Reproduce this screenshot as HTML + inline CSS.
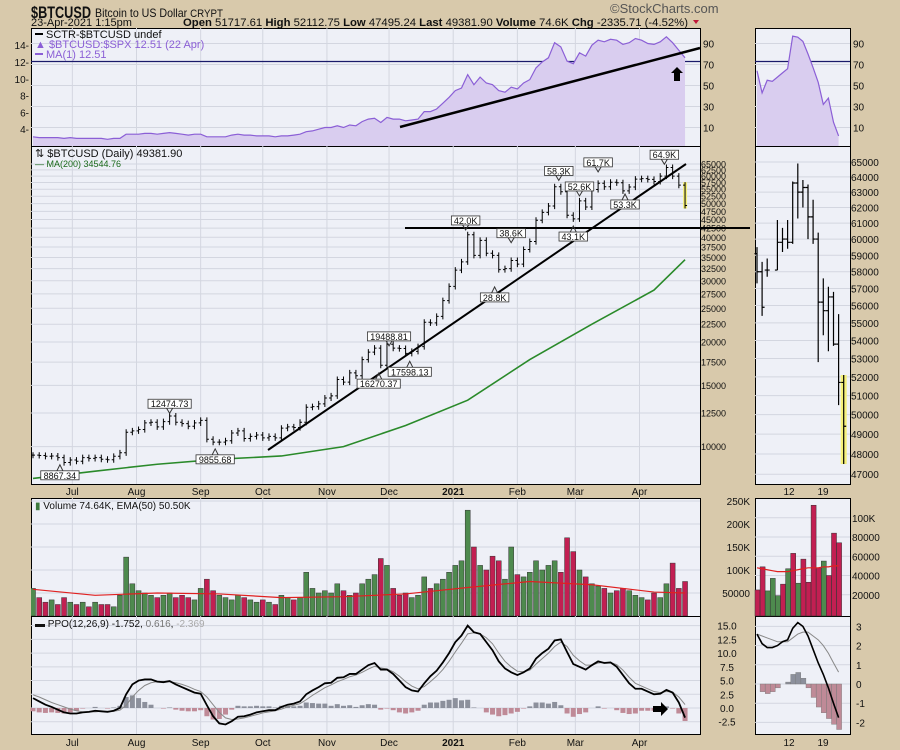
<!DOCTYPE html>
<html><head><meta charset="utf-8"><style>
html,body{margin:0;padding:0;background:#d8c9ab;}
svg{display:block;font-family:"Liberation Sans",sans-serif;}
</style></head><body>
<svg id="c" width="900" height="750" viewBox="0 0 900 750">
<rect x="0" y="0" width="900" height="750" fill="#d8c9ab"/>
<defs>
<clipPath id="cTop"><rect x="31" y="28" width="669" height="118"/></clipPath>
<clipPath id="cPrice"><rect x="31" y="146" width="669" height="338"/></clipPath>
<clipPath id="cVol"><rect x="31" y="498" width="669" height="118"/></clipPath>
<clipPath id="cPpo"><rect x="31" y="616" width="669" height="118"/></clipPath>
<clipPath id="cmTop"><rect x="755" y="28" width="95" height="118"/></clipPath>
</defs>
<text x="31" y="18" font-size="17" font-weight="bold" fill="#111" textLength="60" lengthAdjust="spacingAndGlyphs">$BTCUSD</text>
<text x="95" y="17" font-size="12" fill="#111" textLength="128" lengthAdjust="spacingAndGlyphs">Bitcoin to US Dollar <tspan font-size="11">CRYPT</tspan></text>
<text x="610" y="13" font-size="13" fill="#555">©StockCharts.com</text>
<text x="31" y="26" font-size="11" fill="#111">23-Apr-2021 1:15pm</text>
<text x="183" y="26" font-size="11" fill="#111" textLength="505" lengthAdjust="spacingAndGlyphs"><tspan font-weight="bold">Open</tspan> 51717.61 <tspan font-weight="bold">High</tspan> 52112.75 <tspan font-weight="bold">Low</tspan> 47495.24 <tspan font-weight="bold">Last</tspan> 49381.90 <tspan font-weight="bold">Volume</tspan> 74.6K <tspan font-weight="bold">Chg</tspan> -2335.71 (-4.52%)</text>
<polygon points="693,20 699,20 696,24" fill="#c0183a"/>
<g fill="#eef0f7" stroke="#000" stroke-width="1">
<rect x="31.5" y="28.5" width="669" height="118"/>
<rect x="31.5" y="146.5" width="669" height="338"/>
<rect x="31.5" y="498.5" width="669" height="118"/>
<rect x="31.5" y="616.5" width="669" height="118"/>
<rect x="755.5" y="28.5" width="95" height="118"/>
<rect x="755.5" y="146.5" width="95" height="338"/>
<rect x="755.5" y="498.5" width="95" height="118"/>
<rect x="755.5" y="616.5" width="95" height="118"/>
</g>
<g id="grid"></g>
<g id="marks"></g>
<g id="labels" font-size="10" fill="#111"></g>
<g font-size="11">
<rect x="35" y="33" width="8" height="2" fill="#000"/>
<text x="46" y="38" fill="#111">SCTR-$BTCUSD undef</text>
<text x="35" y="48" fill="#8b5fd6">▲ $BTCUSD:$SPX 12.51 (22 Apr)</text>
<rect x="35" y="53" width="8" height="2" fill="#8b5fd6"/>
<text x="46" y="58" fill="#8b5fd6">MA(1) 12.51</text>
</g>
<text x="35" y="157" font-size="11" fill="#111">⇅ $BTCUSD (Daily) 49381.90</text>
<text x="35" y="167" font-size="9" fill="#1a6a1a">— MA(200) 34544.76</text>
<text x="35" y="509" font-size="10" fill="#111"><tspan fill="#3d7a3d">▮</tspan> Volume 74.64K, EMA(50) 50.50K</text>
<text x="35" y="627" font-size="10" fill="#111">▬ PPO(12,26,9) -1.752, <tspan fill="#777">0.616</tspan>, <tspan fill="#aaa">-2.369</tspan></text>
<g id="annot">
<line x1="400" y1="127" x2="700" y2="48" stroke="#000" stroke-width="2.5"/>
<polygon points="677,67 683,73 680,73 680,81 674,81 674,73 671,73" fill="#000"/>
<line x1="268" y1="450" x2="686" y2="164" stroke="#000" stroke-width="2"/>
<line x1="405" y1="228" x2="750" y2="228" stroke="#000" stroke-width="2"/>
<polygon points="653,706 661,706 661,702 668,709 661,716 661,712 653,712" fill="#000"/>
</g>
<g id="callouts" font-size="9"></g>
</svg>
<script>
const priceClose=[9450,9430,9380,9400,9300,9000,9150,9080,9300,9250,
9300,9200,9170,9380,9600,11000,11100,11200,11700,11750,
11400,11800,12250,11750,11650,11450,11700,11900,10500,10300,
10300,10400,10950,11100,10550,10700,10800,10600,10700,10600,
11300,11400,11350,11750,12980,13030,13270,13800,14000,15600,
15330,16300,15990,17800,18700,19200,17150,19700,19200,19150,
18550,18800,19400,22800,22700,23700,26300,28900,32200,34000,
40700,35500,39200,36000,35500,32300,32500,34300,33500,36900,
38900,44800,47200,49200,55900,54100,46300,45200,50900,48900,
54900,57200,55900,57600,57400,54400,55800,58800,59000,58700,
57900,60000,63500,60000,56500,49381];
const ratioValues=[3.1,3.0,3.0,3.0,3.0,2.9,3.0,2.9,2.9,2.9,
2.9,2.9,2.8,2.9,2.9,3.4,3.4,3.4,3.5,3.5,
3.4,3.5,3.6,3.5,3.4,3.3,3.4,3.4,3.1,3.1,
3.1,3.1,3.3,3.4,3.3,3.3,3.2,3.2,3.2,3.1,
3.2,3.2,3.3,3.4,3.7,3.8,4.0,4.2,4.2,4.4,
4.2,4.5,4.4,4.9,5.2,5.3,4.8,5.4,5.2,5.2,
5.0,5.1,5.2,6.1,6.1,6.4,7.1,7.8,8.6,8.9,
10.5,9.3,10.2,9.5,9.3,8.6,8.4,9.0,8.8,9.5,
9.9,11.3,12.0,12.5,14.3,13.8,12.1,11.8,13.1,12.7,
14.0,14.6,14.4,14.7,14.6,14.1,14.3,14.8,14.6,14.2,
14.1,14.4,15.0,14.3,13.4,12.5];
const volumeK=[60,40,30,35,25,40,30,25,30,20,
30,25,25,20,45,128,70,55,50,45,
40,45,50,40,45,40,35,60,80,55,
45,40,35,45,40,35,30,35,30,25,
45,40,35,40,95,60,50,55,50,70,
55,45,50,70,80,90,125,110,60,45,
50,40,45,85,60,70,80,95,110,120,
230,150,110,100,130,120,80,150,90,85,
95,120,100,110,120,95,170,140,100,85,
70,65,60,50,55,60,55,45,40,35,
50,40,70,115,60,75];
const ppoLine=[1.8,1.2,0.6,0.2,-0.3,-0.8,-1.0,-1.0,-0.8,-0.7,
-0.5,-0.6,-0.7,-0.5,0.0,2.5,4.3,5.0,5.2,5.2,
4.8,4.7,4.9,4.3,3.8,3.3,2.8,2.6,0.5,-1.5,
-2.8,-3.0,-2.4,-1.6,-1.5,-1.2,-0.8,-0.6,-0.4,-0.4,
0.2,0.6,0.8,1.2,2.5,3.2,3.8,4.5,4.6,5.5,
5.6,6.2,6.2,7.0,7.8,8.2,7.0,7.0,6.2,5.0,
3.8,3.2,3.0,4.5,5.8,6.8,8.3,10.0,12.0,13.2,
15.0,13.8,13.5,12.0,10.5,8.5,7.2,6.5,6.0,6.5,
7.2,9.0,10.0,10.8,12.3,12.5,10.2,8.0,7.5,7.0,
7.8,8.5,8.2,8.3,7.5,6.0,4.5,3.5,3.5,3.0,
2.5,2.6,3.3,2.8,1.0,-1.75];
const ppoSignal=[2.4,2.0,1.5,1.0,0.6,0.2,-0.2,-0.5,-0.7,-0.7,
-0.7,-0.6,-0.6,-0.6,-0.4,0.5,2.0,3.2,4.1,4.6,
4.8,4.8,4.8,4.6,4.3,3.9,3.4,3.0,2.0,0.6,
-0.8,-1.8,-2.1,-2.0,-1.8,-1.5,-1.2,-0.9,-0.7,-0.5,
-0.2,0.2,0.5,0.8,1.5,2.3,3.0,3.7,4.2,4.8,
5.2,5.7,6.0,6.5,7.1,7.6,7.3,7.1,6.6,5.8,
4.8,4.0,3.5,3.9,4.8,5.8,7.0,8.5,10.2,11.8,
13.5,13.7,13.5,12.8,11.7,10.0,8.5,7.5,6.7,6.6,
6.9,8.0,9.0,10.0,11.2,12.0,11.2,9.6,8.6,7.8,
7.8,8.2,8.3,8.3,7.9,6.9,5.6,4.5,4.0,3.5,
3.0,2.8,3.0,2.9,2.0,0.62];
const ma200Days=[0,30,60,90,120,150,180,210,240,270,300,315];
const ma200Values=[8100,8500,8900,9200,9400,10000,11500,13600,17800,22500,28200,34500];
const volEmaDays=[0,30,60,90,120,150,180,210,240,270,300,315];
const volEmaK=[58,45,50,48,40,42,48,62,75,68,52,50];
const miniOpen=[59100,58000,58100,58100,59800,60000,59800,63600,63000,63300,61400,60000,56200,55700,56500,53800,51700];
const miniHigh=[59500,58600,58800,61200,60700,61200,63700,64900,63800,63500,62500,60400,57600,57100,56800,55500,52100];
const miniLow=[57300,55400,57700,58100,59200,59400,59700,61300,62000,60000,59700,52800,54300,53400,53700,50500,47500];
const miniClose=[58000,55900,58100,59800,60000,59800,63600,63000,63300,61400,60000,56200,55700,56500,53800,51700,49400];
const miniDay=[0,1,2,4,5,6,7,8,9,10,11,12,13,14,15,16,17];
const miniSctr=[64,43,55,54,58,62,66,97,96,92,80,67,53,32,38,15,2];
const miniVolK=[25,49,24,37,19,31,47,63,32,57,33,113,48,55,40,84,74];
const miniVolUp=[0,0,1,1,1,0,1,0,1,0,0,0,0,1,0,0,0];
const miniVolEma=[48,47,46,45,44,44,44,45,46,47,48,48,48,49,49,50,50];
const miniPpo=[2.6,2.1,1.9,1.9,2.0,2.2,2.3,2.9,3.2,3.0,2.5,1.8,1.1,0.5,-0.2,-1.0,-1.75];
const miniSignal=[2.6,2.5,2.4,2.3,2.2,2.2,2.2,2.4,2.6,2.7,2.7,2.5,2.3,2.0,1.6,1.1,0.62];
const priceTicks=[65000,62500,60000,57500,55000,52500,50000,47500,45000,42500,40000,37500,35000,32500,30000,27500,25000,22500,20000,17500,15000,12500,10000];
const miniPriceTicks=[65000,64000,63000,62000,61000,60000,59000,58000,57000,56000,55000,54000,53000,52000,51000,50000,49000,48000,47000];
const sctrTicks=[90,70,50,30,10];
const ratioTicks=[14,12,10,8,6,4];
const volTicks=[250,200,150,100,50];
const volTickLabels=["250K","200K","150K","100K","50000"];
const ppoTicks=[15,12.5,10,7.5,5,2.5,0,-2.5];
const miniVolTicks=[100,80,60,40,20];
const miniVolLabels=["100K","80000","60000","40000","20000"];
const miniPpoTicks=[3,2,1,0,-1,-2];
const monthLabels=["Jul","Aug","Sep","Oct","Nov","Dec","2021","Feb","Mar","Apr"];
const monthDays=[19,50,81,111,142,172,203,234,262,293];
const callText=["8867.34","12474.73","9855.68","19488.81","16270.37","17598.13","42.0K","38.6K","28.8K","58.3K","52.6K","43.1K","53.3K","61.7K","64.9K"];
const callValue=[8867,12475,9856,19489,16270,17598,42000,38600,28800,58300,52600,43100,53300,61700,64900];
const callDay=[13,66,88,172,167,182,209,231,223,254,264,261,286,273,305];
const callAbove=[0,1,0,1,0,0,1,1,0,1,1,0,0,1,1];

const STEP=3;
const xDay=d=>33+d*2.07;
const LN65=Math.log(65000);
const yP=v=>164+(LN65-Math.log(v))*151;
const yRatio=v=>62-(v-12)*8.4;
const ySctr=v=>138-v*1.05;
const yVol=k=>616-k*0.46;
const yPpo=v=>708-v*5.49;
const xm=i=>757+i*5.1;
const yMP=v=>162+(LN65-Math.log(v))*963;
const yMV=k=>614-k*0.9625;
const yMPpo=v=>684-v*19.2;

const NS="http://www.w3.org/2000/svg";
function mk(parent,tag,attrs){const e=document.createElementNS(NS,tag);for(const k in attrs)e.setAttribute(k,attrs[k]);parent.appendChild(e);return e;}
const G=document.getElementById('grid'),M=document.getElementById('marks'),L=document.getElementById('labels'),C=document.getElementById('callouts');

function hgrid(y,x1,x2){const l=mk(G,'line',{x1:x1,x2:x2,y1:y,y2:y,stroke:'#d3d6e0','stroke-width':1});

}
function label(x,y,t,anchor,extra){const e=mk(L,'text',Object.assign({x:x,y:y,'text-anchor':anchor||'start'},extra||{}));e.textContent=t;return e;}
monthDays.forEach((d,i)=>{const x=xDay(d);
[[28,146],[146,484],[498,616],[616,734]].forEach(r=>{const l=mk(G,'line',{x1:x,x2:x,y1:r[0],y2:r[1],stroke:'#d3d6e0'});

});
const a=label(x,495,monthLabels[i],'middle',monthLabels[i]==='2021'?{'font-weight':'bold'}:{});


const b=label(x,746,monthLabels[i],'middle',monthLabels[i]==='2021'?{'font-weight':'bold'}:{});

});
[["12",789],["19",823]].forEach(p=>{[495,746].forEach(yy=>{const t=label(p[1],yy,p[0],'middle');

});});
sctrTicks.forEach(v=>{hgrid(ySctr(v),31,700);hgrid(ySctr(v),755,850);
const t=label(703,ySctr(v)+4,String(v));


const t2=label(853,ySctr(v)+4,String(v));

});
ratioTicks.forEach(v=>{const t=label(29,yRatio(v)+4,v+'-','end');

});
priceTicks.forEach(v=>{hgrid(yP(v),31,700);
const t=label(701,yP(v)+3.5,String(v),'start',{'font-size':'9'});

});
miniPriceTicks.forEach(v=>{hgrid(yMP(v),755,850);
const t=label(851,yMP(v)+4,String(v));

});
volTicks.forEach((v,i)=>{hgrid(yVol(v),31,700);
const t=label(750,yVol(v)+4,volTickLabels[i],'end');

});
miniVolTicks.forEach((v,i)=>{hgrid(yMV(v),755,850);
const t=label(852,yMV(v)+4,miniVolLabels[i]);

});
ppoTicks.forEach(v=>{hgrid(yPpo(v),31,700);
const t=label(727,yPpo(v)+4,v.toFixed(1),'middle');

});
miniPpoTicks.forEach(v=>{hgrid(yMPpo(v),755,850);
const t=label(856,yMPpo(v)+4,String(v));

});
[[31,700],[755,850]].forEach(r=>{const l=mk(M,'line',{x1:r[0],x2:r[1],y1:61.5,y2:61.5,stroke:'#1a1a6a','stroke-width':1.2});

});

const n=priceClose.length;
const pts=ratioValues.map((v,i)=>xDay(i*STEP).toFixed(1)+','+yRatio(v).toFixed(1));
const area=mk(M,'polygon',{points:xDay(0)+',146 '+pts.join(' ')+' '+xDay((ratioValues.length-1)*STEP)+',146',fill:'#d9cdef','clip-path':'url(#cTop)'});


const rl=mk(M,'polyline',{points:pts.join(' '),fill:'none',stroke:'#8b5fd6','stroke-width':1.2,'clip-path':'url(#cTop)'});


const mp=miniSctr.map((v,i)=>xm(i)+','+ySctr(v));
const ma=mk(M,'polygon',{points:xm(0)+',146 '+mp.join(' ')+' '+xm(miniSctr.length-1)+',146',fill:'#d9cdef','clip-path':'url(#cmTop)'});


const ml=mk(M,'polyline',{points:mp.join(' '),fill:'none',stroke:'#8b5fd6','stroke-width':1.2});



const hl=mk(M,'rect',{x:xDay((n-1)*STEP)-2,y:yP(priceClose[n-2]*1.02),width:4,height:yP(priceClose[n-1]*0.98)-yP(priceClose[n-2]*1.02),fill:'#f5f07a'});


for(let i=0;i<n;i++){const x=xDay(i*STEP);const o=i?priceClose[i-1]:priceClose[i];const c=priceClose[i];
const hi=Math.max(o,c)*1.02,lo=Math.min(o,c)*0.98;
const g=mk(M,'path',{d:`M${x},${yP(hi)}V${yP(lo)}M${x-2},${yP(o)}H${x}M${x},${yP(c)}H${x+2}`,stroke:'#000','stroke-width':1,fill:'none','clip-path':'url(#cPrice)'});

}
const mal=mk(M,'polyline',{points:ma200Days.map((d,i)=>xDay(d)+','+yP(ma200Values[i])).join(' '),fill:'none',stroke:'#2a8a2a','stroke-width':1.6});


for(let i=0;i<miniClose.length;i++){const x=757+miniDay[i]*5.1;
if(i===miniClose.length-1){const r=mk(M,'rect',{x:x-3,y:yMP(miniHigh[i]),width:6,height:yMP(miniLow[i])-yMP(miniHigh[i]),fill:'#f5f07a'});

}
const p=mk(M,'path',{d:`M${x},${yMP(miniHigh[i])}V${yMP(miniLow[i])}M${x-2.5},${yMP(miniOpen[i])}H${x}M${x},${yMP(miniClose[i])}H${x+2.5}`,stroke:'#000','stroke-width':1.2,fill:'none'});

}

callText.forEach((t,i)=>{const x=xDay(callDay[i]);const yv=yP(callValue[i]);
const w=t.length*4.9+4;const by=callAbove[i]?yv-14:yv+6;
const tick=mk(C,'path',{d:callAbove[i]?`M${x-3},${by+9}L${x},${yv}L${x+3},${by+9}`:`M${x-3},${by}L${x},${yv}L${x+3},${by}`,stroke:'#333',fill:'none'});


const r=mk(C,'rect',{x:x-w/2,y:by,width:w,height:9,fill:'#fff',stroke:'#333','stroke-width':0.8});


const tx=mk(C,'text',{x:x,y:by+8,'text-anchor':'middle',fill:'#111'});tx.textContent=t;

});

for(let i=0;i<n;i++){const x=xDay(i*STEP);const up=i===0||priceClose[i]>=priceClose[i-1];
const r=mk(M,'rect',{x:x-2.5,y:yVol(volumeK[i]),width:5,height:616-yVol(volumeK[i]),fill:up?'#4e8a4e':'#c21f52',stroke:'#333','stroke-width':0.5,'clip-path':'url(#cVol)'});

}
const ve=mk(M,'polyline',{points:volEmaDays.map((d,i)=>xDay(d)+','+yVol(volEmaK[i])).join(' '),fill:'none',stroke:'#e02020','stroke-width':1.2});


miniVolK.forEach((v,i)=>{const r=mk(M,'rect',{x:755+i*5.1,y:yMV(v),width:5,height:614-yMV(v)+2,fill:miniVolUp[i]?'#4e8a4e':'#c21f52',stroke:'#333','stroke-width':0.5});

});
const mve=mk(M,'polyline',{points:miniVolEma.map((v,i)=>(757+i*5.1)+','+yMV(v)).join(' '),fill:'none',stroke:'#e02020','stroke-width':1.2});



for(let i=0;i<n;i++){const x=xDay(i*STEP);const h=ppoLine[i]-ppoSignal[i];const y0=yPpo(0),y1=yPpo(h);
const r=mk(M,'rect',{x:x-2.5,y:Math.min(y0,y1),width:5,height:Math.abs(y1-y0),fill:h>=0?'#8c909c':'#bf8a97'});

}
const ps=mk(M,'polyline',{points:ppoSignal.map((v,i)=>xDay(i*STEP)+','+yPpo(v)).join(' '),fill:'none',stroke:'#888','stroke-width':1});


const pl=mk(M,'polyline',{points:ppoLine.map((v,i)=>xDay(i*STEP)+','+yPpo(v)).join(' '),fill:'none',stroke:'#000','stroke-width':1.8});


miniPpo.forEach((v,i)=>{const h=v-miniSignal[i];const y0=yMPpo(0),y1=yMPpo(h);
const r=mk(M,'rect',{x:755+i*5.1,y:Math.min(y0,y1),width:5,height:Math.abs(y1-y0),fill:h>=0?'#8c909c':'#bf8a97',stroke:'#777','stroke-width':0.4});

});
const mps=mk(M,'polyline',{points:miniSignal.map((v,i)=>(757+i*5.1)+','+yMPpo(v)).join(' '),fill:'none',stroke:'#888','stroke-width':1});


const mpl=mk(M,'polyline',{points:miniPpo.map((v,i)=>(757+i*5.1)+','+yMPpo(v)).join(' '),fill:'none',stroke:'#000','stroke-width':1.6});


</script>
</body></html>
